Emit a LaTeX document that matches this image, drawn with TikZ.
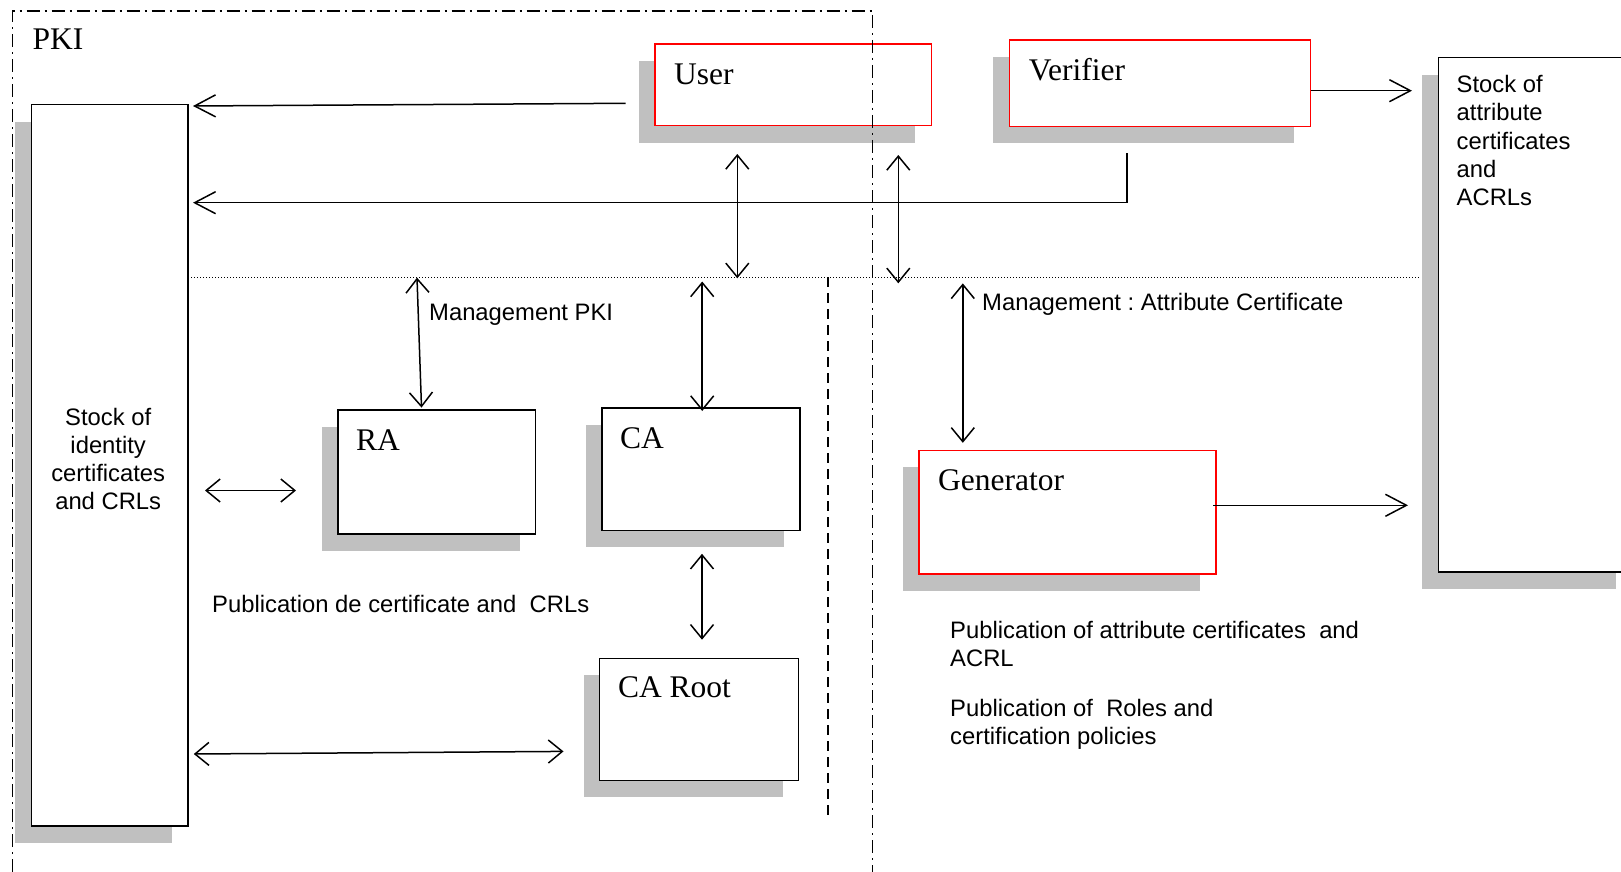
\documentclass[tikz,border=0pt]{standalone}
\usepackage{fontspec}
\setmainfont{Liberation Serif}
\newfontfamily\lblfont{Liberation Sans}
\usetikzlibrary{arrows.meta,shadows}
\definecolor{shade}{RGB}{192,192,192}
\definecolor{boxred}{RGB}{255,0,0}
\frenchspacing

\begin{document}
\begin{tikzpicture}[x=1pt,y=-1pt,
  shadowed/.style={general shadow={fill=shade,shadow xshift=-16pt,shadow yshift=-17pt}},
  blkbox/.style={shadowed,draw=black,fill=white,line width=1.5pt,inner sep=0pt,anchor=north west},
  redbox/.style={blkbox,draw=boxred},
  ttl/.style={font=\fontsize{31.5}{36}\selectfont,anchor=base west,inner sep=0pt},
  lbl/.style={font=\lblfont\fontsize{23.8}{28.3}\selectfont,anchor=base west,inner sep=0pt,align=left},
  blocklbl/.style={font=\lblfont\fontsize{23.8}{28.3}\selectfont,inner sep=0pt},
  onehead/.style={line width=1.5pt,-{Straight Barb[length=21pt,width=22pt]}},
  twohead/.style={line width=1.5pt,{Straight Barb[length=14pt,width=23pt]}-{Straight Barb[length=14pt,width=23pt]}},
  framestyle/.style={line width=1.3pt,dash pattern=on 13pt off 5pt on 2pt off 5pt},
  dotstyle/.style={line width=1pt,dash pattern=on 1pt off 2pt},
  dashstyle/.style={line width=1.3pt,dash pattern=on 10pt off 6pt}]

\useasboundingbox (0,0) rectangle (1621,872);

% ---------- boxes ----------
\node[blkbox,minimum width=156.5pt,minimum height=721pt] (stockid) at (30.5,104) {};
\node[redbox,minimum width=276.7pt,minimum height=81.7pt] (user) at (654,43.3) {};
\node[redbox,minimum width=301pt,minimum height=86.4pt] (verifier) at (1008.6,39.3) {};
\node[blkbox,minimum width=194pt,minimum height=514pt] (stockattr) at (1437.5,57) {};
\node[blkbox,minimum width=197.8pt,minimum height=124.2pt] (ra) at (337,409.2) {};
\node[blkbox,minimum width=198.4pt,minimum height=122.2pt] (ca) at (601,407.3) {};
\node[blkbox,minimum width=198.9pt,minimum height=121.8pt] (caroot) at (598.9,657.7) {};
\node[redbox,minimum width=297pt,minimum height=123.5pt] (generator) at (918,449.5) {};

% ---------- box titles ----------
\node[ttl] (pki) at (32.3,50) {PKI};
\node[ttl] at ([shift={(20,41)}]user.north west) {User};
\node[ttl] at ([shift={(20,41)}]verifier.north west) {Verifier};
\node[ttl] at ([shift={(19,41)}]ra.north west) {RA};
\node[ttl] at ([shift={(19,41)}]ca.north west) {CA};
\node[ttl] at ([shift={(19,40)}]caroot.north west) {CA Root};
\node[ttl] at ([shift={(20,41)}]generator.north west) {Generator};

\node[blocklbl,align=center] (stockidtxt) at (108.2,459) {Stock of\\identity\\certificates\\and CRLs};
\node[blocklbl,align=left,anchor=north west] (stockattrtxt) at (1456.5,75) {Stock of\\attribute\\certificates\\and\\ACRLs};

% ---------- frame and separators ----------
\coordinate (fbl) at (12.7,872);
\coordinate (ftl) at (12.7,11);
\coordinate (ftr) at (872.7,11);
\coordinate (fbr) at (872.7,872);
\draw[framestyle] (fbl) -- (ftl) -- (ftr) -- (fbr);

\coordinate (dl) at (191,277);
\coordinate (dr) at (1419,277);
\draw[dotstyle] (dl) -- (dr);

\coordinate (vt) at (828,277);
\coordinate (vb) at (828,818);
\draw[dashstyle] (vt) -- (vb);

% ---------- connectors ----------
\coordinate (a1s) at (625.7,103.3);
\coordinate (a1e) at (193,106);
\draw[onehead] (a1s) -- (a1e);

\coordinate (a2s) at (1126.8,153.3);
\coordinate (a2m) at (1126.8,202.7);
\coordinate (a2e) at (193,202.7);
\draw[onehead,line join=miter] (a2s) -- (a2m) -- (a2e);

\coordinate (a3s) at (737.3,154);
\coordinate (a3e) at (737.3,278.3);
\draw[twohead] (a3s) -- (a3e);

\coordinate (a4s) at (898.3,155);
\coordinate (a4e) at (898.3,283.3);
\draw[twohead] (a4s) -- (a4e);

\coordinate (a5s) at (417,277.6);
\coordinate (a5e) at (421.5,407.6);
\draw[twohead] (a5s) -- (a5e);

\coordinate (a6s) at (702.2,281.5);
\coordinate (a6e) at (702.2,411);
\draw[twohead] (a6s) -- (a6e);

\coordinate (a7s) at (205,490.5);
\coordinate (a7e) at (296,490.5);
\draw[twohead] (a7s) -- (a7e);

\coordinate (a8s) at (702,553.8);
\coordinate (a8e) at (702,639.7);
\draw[twohead] (a8s) -- (a8e);

\coordinate (a9s) at (193.8,754);
\coordinate (a9e) at (563.5,751.4);
\draw[twohead] (a9s) -- (a9e);

\coordinate (a10s) at (962.8,283.4);
\coordinate (a10e) at (962.8,442.8);
\draw[twohead] (a10s) -- (a10e);

\coordinate (a11e) at (1412,90.7);
\draw[onehead] (verifier.east |- a11e) -- (a11e);

\coordinate (a12s) at (1213,505.3);
\coordinate (a12e) at (1408,505.3);
\draw[onehead] (a12s) -- (a12e);

% ---------- labels ----------
\node[lbl] (mpki) at (429,320) {Management PKI};
\node[lbl] (mac) at (982,310) {Management : Attribute Certificate};
\node[lbl] (pubid) at (212,612) {Publication de certificate and~ CRLs};
\node[lbl,anchor=north west] (pubac) at (950,621) {Publication of attribute certificates~ and\\ACRL};
\node[lbl,anchor=north west] (pubroles) at (950,699) {Publication of~ Roles and\\certification policies};

\end{tikzpicture}
\end{document}
